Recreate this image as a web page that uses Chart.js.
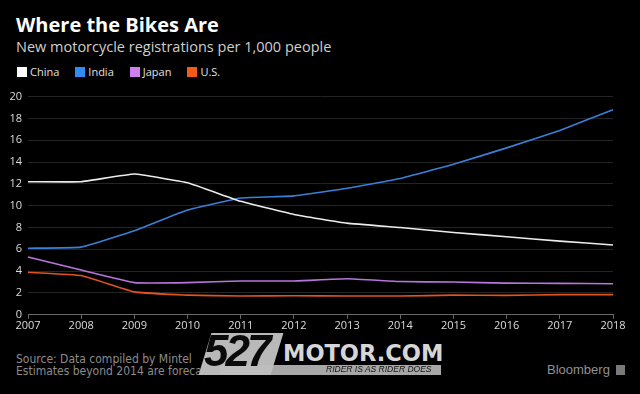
<!DOCTYPE html>
<html>
<head>
<meta charset="utf-8">
<script src="https://cdn.jsdelivr.net/npm/chart.js@4.4.0/dist/chart.umd.min.js"></script>
<style>
  html, body { margin: 0; padding: 0; background: #000; }
  #wrap { position: relative; width: 640px; height: 394px; background: #000; overflow: hidden; font-family: "Open Sans", "DejaVu Sans", sans-serif; }
  .abs { position: absolute; white-space: nowrap; }
  #title { left: 16px; top: 11px; font-size: 20px; font-weight: bold; color: #fff; }
  #subtitle { left: 16px; top: 37px; font-size: 14.5px; color: #cfcfcf; }
  #legend { left: 17px; top: 64px; font-size: 11px; color: #e0e0e0; display: flex; }
  #legend .item { display: flex; align-items: center; margin-right: 16px; }
  #legend .sw { width: 10px; height: 10px; margin-right: 3px; }
  #chartBox { left: 0; top: 84px; width: 640px; height: 248px; }
  .foot { left: 16px; font-size: 12px; line-height: 14px; color: #8c8c8c; font-family: "DejaVu Sans Condensed", "Liberation Sans Narrow", sans-serif; }
  #bloomberg { left: 547px; top: 362px; font-size: 13px; color: #919191; font-family: "Liberation Sans", sans-serif; }
  #bbIcon { left: 616px; top: 365px; width: 9px; height: 10px; background: #7a7a7a; }
  /* watermark */
  #wmBox { left: 205px; top: 333px; width: 72px; height: 42px; background: #b9b9b9; transform: skewX(-17deg); z-index: 1; }
  #wm527 { left: 204px; top: 326px; font-size: 44px; font-weight: bold; font-style: italic; color: #0a0a0a; font-family: "Liberation Sans", sans-serif; letter-spacing: -3px; z-index: 2; }
  #wmMotor { left: 283px; top: 340px; font-size: 22.5px; font-weight: bold; color: #d6d6d6; font-family: "DejaVu Sans", sans-serif; }
  #wmBar { left: 220px; top: 365px; width: 221px; height: 10px; background: rgba(190, 190, 190, 0.88); z-index: 1; }
  #wmTag { left: 326px; top: 364px; font-size: 8.5px; font-style: italic; color: #111; font-family: "Liberation Sans", sans-serif; z-index: 2; }
</style>
</head>
<body>
<div id="wrap">
  <div id="title" class="abs">Where the Bikes Are</div>
  <div id="subtitle" class="abs">New motorcycle registrations per 1,000 people</div>
  <div id="legend" class="abs"></div>
  <div id="chartBox" class="abs"><canvas id="bikesChart"></canvas></div>
  <div class="abs foot" style="top:352px">Source: Data compiled by Mintel</div>
  <div class="abs foot" style="top:364px">Estimates beyond 2014 are forecasts</div>
  <div id="wmBox" class="abs"></div>
  <div id="wm527" class="abs">527</div>
  <div id="wmMotor" class="abs">MOTOR.COM</div>
  <div id="wmBar" class="abs"></div>
  <div id="wmTag" class="abs">RIDER IS AS RIDER DOES</div>
  <div id="bloomberg" class="abs">Bloomberg</div>
  <div id="bbIcon" class="abs"></div>
</div>
<script>
// Data
const years = ['2007', '2008', '2009', '2010', '2011', '2012', '2013', '2014', '2015', '2016', '2017', '2018'];
const seriesNames = ['China', 'India', 'Japan', 'U.S.'];
const seriesColors = ['#ececec', '#3a80d8', '#b776dd', '#e2531e'];
const swatchColors = ['#ffffff', '#2f8cf0', '#cf7ff0', '#f25a1a'];

const china = [12.2, 12.2, 12.9, 12.1, 10.4, 9.2, 8.4, 8.0, 7.55, 7.15, 6.75, 6.4];
const india = [6.1, 6.2, 7.7, 9.6, 10.7, 10.9, 11.6, 12.5, 13.8, 15.3, 16.9, 18.8];
const japan = [5.3, 4.1, 2.95, 2.95, 3.1, 3.1, 3.3, 3.05, 3.0, 2.9, 2.88, 2.85];
const us = [3.9, 3.6, 2.1, 1.8, 1.72, 1.75, 1.72, 1.72, 1.8, 1.78, 1.85, 1.85];

const yMin = 0;
const yMax = 20;
const yStep = 2;

const allSeries = [china, india, japan, us];

// legend
const legendEl = document.getElementById('legend');
seriesNames.forEach((name, i) => {
    const item = document.createElement('div');
    item.className = 'item';
    const sw = document.createElement('div');
    sw.className = 'sw';
    sw.style.background = swatchColors[i];
    const label = document.createElement('span');
    label.textContent = name;
    item.appendChild(sw);
    item.appendChild(label);
    legendEl.appendChild(item);
});

const ctx = document.getElementById('bikesChart').getContext('2d');

new Chart(ctx, {
    type: 'line',
    data: {
        labels: years,
        datasets: allSeries.map((values, i) => ({
            label: seriesNames[i],
            data: values,
            borderColor: seriesColors[i],
            borderWidth: 1.6,
            pointRadius: 0,
            tension: 0.1,
            fill: false
        }))
    },
    options: {
        responsive: true,
        maintainAspectRatio: false,
        animation: false,
        layout: { padding: { top: 8, right: 27, left: 0, bottom: 0 } },
        plugins: {
            legend: { display: false },
            tooltip: { enabled: false }
        },
        scales: {
            x: {
                grid: { drawOnChartArea: false, drawTicks: true, tickLength: 4, color: '#6a6a6a' },
                border: { display: true, color: '#6a6a6a' },
                ticks: {
                    color: '#dcdcdc',
                    font: { size: 11, family: 'Open Sans' },
                    maxRotation: 0,
                    autoSkip: false,
                    padding: 0
                }
            },
            y: {
                min: yMin,
                max: yMax,
                afterFit: s => { s.width = 28; },
                grid: { color: '#242424', drawTicks: false },
                border: { display: false },
                ticks: {
                    stepSize: yStep,
                    color: '#dcdcdc',
                    font: { size: 11, family: 'Open Sans' },
                    padding: 6
                }
            }
        }
    }
});
</script>
</body>
</html>
